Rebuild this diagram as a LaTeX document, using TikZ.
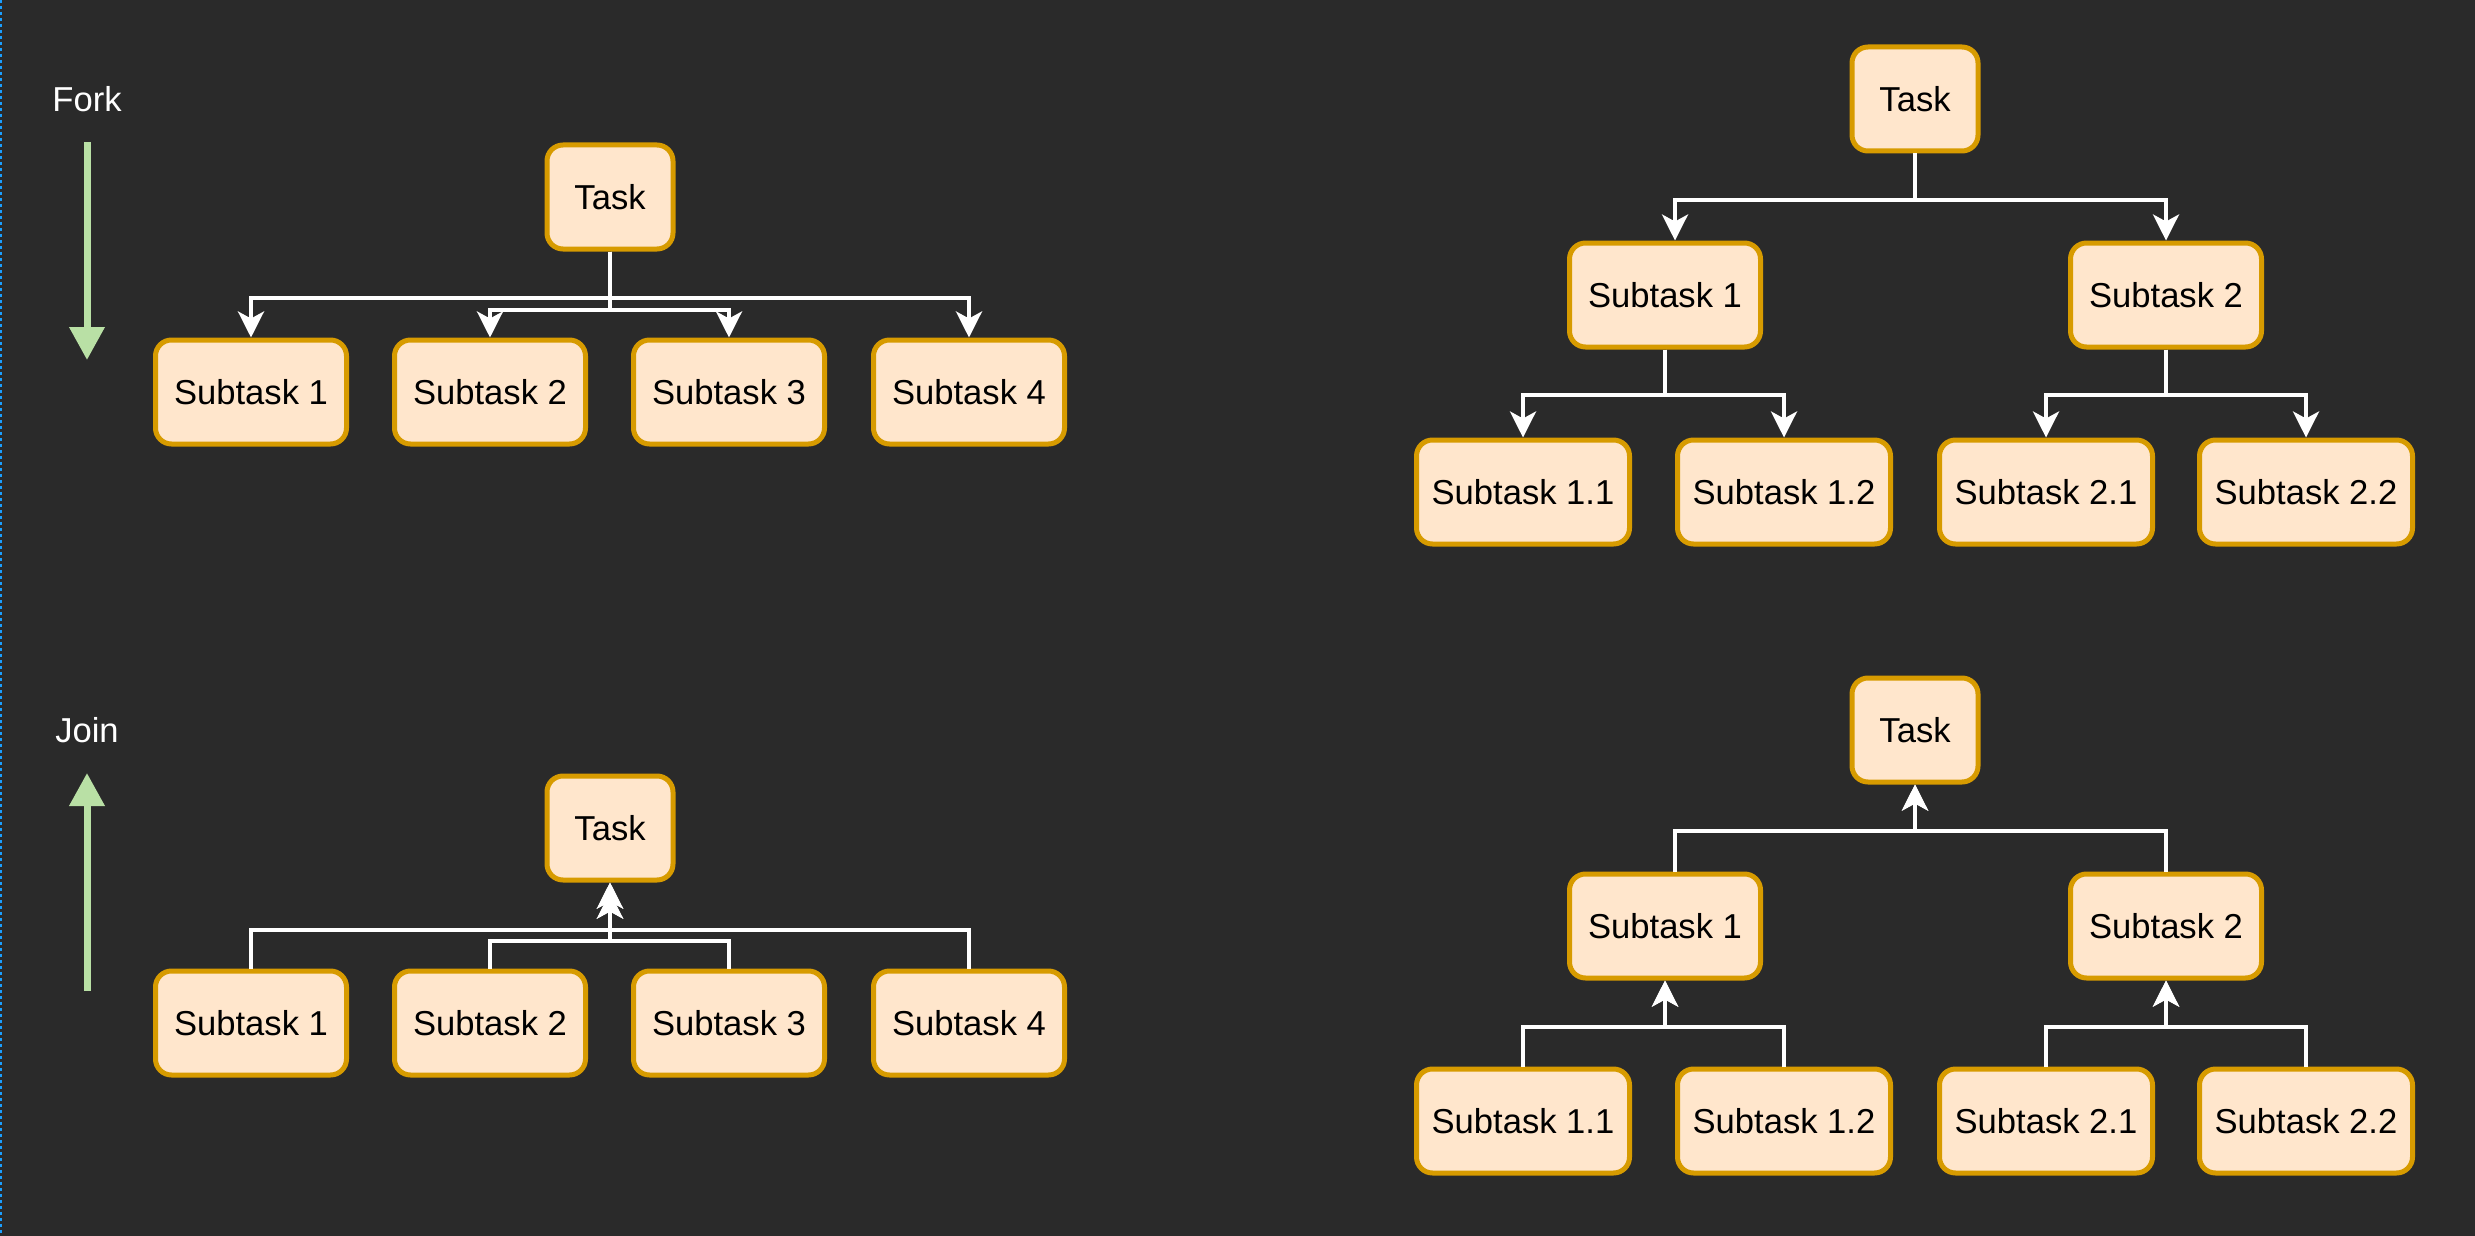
\documentclass[tikz,border=0pt]{standalone}
\usepackage{fontspec}
\setmainfont{Liberation Sans}
\usetikzlibrary{arrows.meta}
\definecolor{bgdark}{HTML}{2A2A2A}
\definecolor{boxfill}{HTML}{FFE6CC}
\definecolor{boxline}{HTML}{D79B00}
\definecolor{greenarr}{HTML}{B9E0A5}
\definecolor{pageblue}{HTML}{1A9FFF}
\begin{document}
\begin{tikzpicture}[x=0.5pt, y=-0.5pt,
  box/.style={draw=boxline, fill=boxfill, line width=2.5pt, rounded corners=8pt, minimum height=52pt, font=\fontsize{17.3}{21}\selectfont},
  task/.style={box, minimum width=63pt},
  sub/.style={box, minimum width=95.5pt},
  subsub/.style={box, minimum width=106.5pt},
  conn/.style={draw=white, line width=2pt, >={Stealth[length=13pt, width=13pt, inset=3.5pt]}},
  flow/.style={draw=greenarr, line width=3.5pt, >={Triangle[length=16.5pt, width=17pt]}},
  lbl/.style={text=white, font=\fontsize{17.3}{21}\selectfont}]
\fill[bgdark] (0,0) rectangle (2475,1236);
\useasboundingbox (0,0) rectangle (2475,1236);
\draw[pageblue, line width=1pt, dash pattern=on 1.5pt off 1.5pt] (1,0) -- (1,1236);
% Fork
\node[lbl] (fork) at (87,99) {Fork};
\coordinate (f1) at (87,142);
\coordinate (f2) at (87,360);
\draw[flow, ->] (f1) -- (f2);
\node[task] (ft) at (610,197) {Task};
\node[sub] (fs1) at (251,392) {Subtask 1};
\node[sub] (fs2) at (490,392) {Subtask 2};
\node[sub] (fs3) at (729,392) {Subtask 3};
\node[sub] (fs4) at (969,392) {Subtask 4};
\draw[conn, ->] (ft.south) -- ++(0,46) -| (fs1.north);
\draw[conn, ->] (ft.south) -- ++(0,58) -| (fs2.north);
\draw[conn, ->] (ft.south) -- ++(0,58) -| (fs3.north);
\draw[conn, ->] (ft.south) -- ++(0,46) -| (fs4.north);
% Join
\node[lbl] (join) at (87,730) {Join};
\coordinate (j1) at (87,991);
\coordinate (j2) at (87,773);
\draw[flow, ->] (j1) -- (j2);
\node[task] (jt) at (610,828) {Task};
\node[sub] (js1) at (251,1023) {Subtask 1};
\node[sub] (js2) at (490,1023) {Subtask 2};
\node[sub] (js3) at (729,1023) {Subtask 3};
\node[sub] (js4) at (969,1023) {Subtask 4};
\draw[conn, <-] (jt.south) -- ++(0,47) -| (js1.north);
\draw[conn, <-] ([yshift=-5pt]jt.south) -- ++(0,48) -| (js2.north);
\draw[conn, <-] ([yshift=-5pt]jt.south) -- ++(0,48) -| (js3.north);
\draw[conn, <-] (jt.south) -- ++(0,47) -| (js4.north);
% Fork tree
\node[task] (rt) at (1915,99) {Task};
\node[sub] (r1) at (1665,295) {Subtask 1};
\node[sub] (r2) at (2166,295) {Subtask 2};
\node[subsub] (r11) at (1523,492) {Subtask 1.1};
\node[subsub] (r12) at (1784,492) {Subtask 1.2};
\node[subsub] (r21) at (2046,492) {Subtask 2.1};
\node[subsub] (r22) at (2306,492) {Subtask 2.2};
\draw[conn, ->] (rt.south) -- ++(0,46) -| ([xshift=5pt]r1.north);
\draw[conn, ->] (rt.south) -- ++(0,46) -| (r2.north);
\draw[conn, ->] (r1.south) -- ++(0,45) -| (r11.north);
\draw[conn, ->] (r1.south) -- ++(0,45) -| (r12.north);
\draw[conn, ->] (r2.south) -- ++(0,45) -| (r21.north);
\draw[conn, ->] (r2.south) -- ++(0,45) -| (r22.north);
% Join tree
\node[task] (bt) at (1915,730) {Task};
\node[sub] (b1) at (1665,926) {Subtask 1};
\node[sub] (b2) at (2166,926) {Subtask 2};
\node[subsub] (b11) at (1523,1121) {Subtask 1.1};
\node[subsub] (b12) at (1784,1121) {Subtask 1.2};
\node[subsub] (b21) at (2046,1121) {Subtask 2.1};
\node[subsub] (b22) at (2306,1121) {Subtask 2.2};
\draw[conn, <-] (bt.south) -- ++(0,46) -| ([xshift=5pt]b1.north);
\draw[conn, <-] (bt.south) -- ++(0,46) -| (b2.north);
\draw[conn, <-] (b1.south) -- ++(0,46) -| (b11.north);
\draw[conn, <-] (b1.south) -- ++(0,46) -| (b12.north);
\draw[conn, <-] (b2.south) -- ++(0,46) -| (b21.north);
\draw[conn, <-] (b2.south) -- ++(0,46) -| (b22.north);
\end{tikzpicture}
\end{document}
